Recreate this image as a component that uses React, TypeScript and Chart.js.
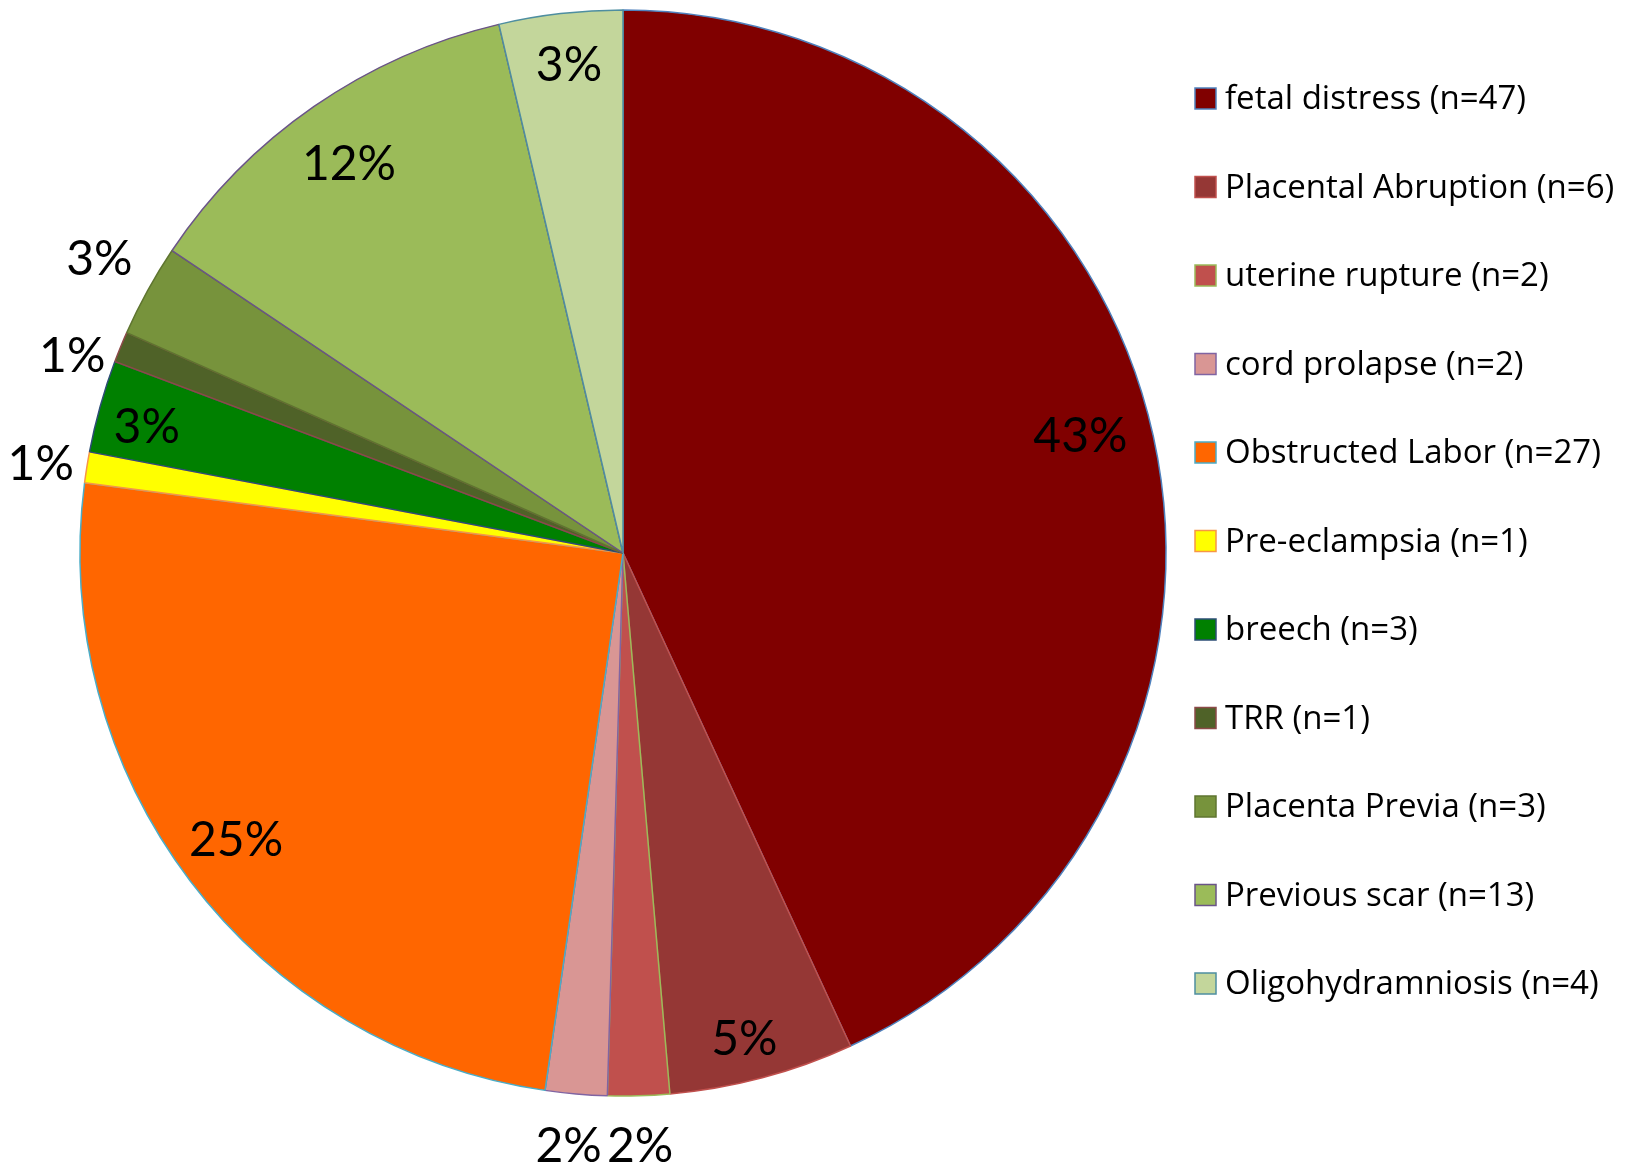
import React, { useEffect, useRef } from "react";
import { Chart, registerables } from "chart.js";

Chart.register(...registerables);

// ---- data ----
const categories = [
  "fetal distress",
  "Placental Abruption",
  "uterine rupture",
  "cord prolapse",
  "Obstructed Labor",
  "Pre-eclampsia",
  "breech",
  "TRR",
  "Placenta Previa",
  "Previous scar",
  "Oligohydramniosis",
];
const counts = [47, 6, 2, 2, 27, 1, 3, 1, 3, 13, 4];
const percentLabels = ["43%", "5%", "2%", "2%", "25%", "1%", "3%", "1%", "3%", "12%", "3%"];

// ---- styles ----
const fillColors = [
  "#800000",
  "#953735",
  "#C0504D",
  "#D99694",
  "#FF6600",
  "#FFFF00",
  "#008000",
  "#4F6228",
  "#77933C",
  "#9BBB59",
  "#C3D69B",
];
const borderColors = [
  "#4F81BD",
  "#C0504D",
  "#9BBB59",
  "#8064A2",
  "#4BACC6",
  "#F79646",
  "#2C4D75",
  "#8C4A48",
  "#5F7530",
  "#6A5488",
  "#4E8EA0",
];
// label placement relative to each slice: radius factor and angle tweak (deg)
const labelRadius = [0.87, 0.92, 1.09, 1.095, 0.886, 1.085, 0.908, 1.078, 1.107, 0.878, 0.906];
const labelAngleShift = [-2.1, 0.8, 0, 0.3, 0.7, -0.3, -0.7, -2.5, 0.5, -0.4, 0.3];

const LABEL_FONT = "Lato, 'Open Sans', sans-serif";
const LEGEND_FONT = "'Open Sans', 'Noto Sans', sans-serif";
const LABEL_SIZE = 48;
const LEGEND_SIZE = 33;

const pctLabelPlugin = {
  id: "pctLabels",
  afterDatasetsDraw(chart: any) {
    const ctx = chart.ctx;
    const meta = chart.getDatasetMeta(0);
    ctx.save();
    ctx.font = `${LABEL_SIZE}px ${LABEL_FONT}`;
    ctx.fillStyle = "#000000";
    ctx.textAlign = "center";
    ctx.textBaseline = "alphabetic";
    meta.data.forEach((arc: any, i: number) => {
      const p = arc.getProps(["x", "y", "startAngle", "endAngle", "outerRadius"], true);
      const mid = (p.startAngle + p.endAngle) / 2 + (labelAngleShift[i] * Math.PI) / 180;
      const r = p.outerRadius * labelRadius[i];
      const cx = p.x + Math.cos(mid) * r;
      const cy = p.y + Math.sin(mid) * r;
      ctx.fillText(percentLabels[i], cx, cy + (LABEL_SIZE * 0.72) / 2);
    });
    ctx.restore();
  },
};

const legendPlugin = {
  id: "customLegend",
  afterDraw(chart: any) {
    const ctx = chart.ctx;
    const labels = chart.data.labels as string[];
    const ds = chart.data.datasets[0];
    const boxX = 1195;
    const boxSize = 21;
    const firstCenter = 98.5;
    const step = 88.5;
    const textX = 1225;
    ctx.save();
    ctx.font = `${LEGEND_SIZE}px ${LEGEND_FONT}`;
    ctx.textAlign = "left";
    ctx.textBaseline = "alphabetic";
    labels.forEach((lab, i) => {
      const cy = firstCenter + i * step;
      ctx.fillStyle = ds.backgroundColor[i];
      ctx.fillRect(boxX, cy - boxSize / 2, boxSize, boxSize);
      ctx.lineWidth = 1.5;
      ctx.strokeStyle = ds.borderColor[i];
      ctx.strokeRect(boxX, cy - boxSize / 2, boxSize, boxSize);
      ctx.fillStyle = "#000000";
      ctx.fillText(lab, textX, cy + 10.5);
    });
    ctx.restore();
  },
};

export default function App() {
  const canvasRef = useRef<HTMLCanvasElement | null>(null);

  useEffect(() => {
    if (!canvasRef.current) return;
    const chart = new Chart(canvasRef.current, {
      type: "pie",
      data: {
        labels: categories.map((c, i) => `${c} (n=${counts[i]})`),
        datasets: [
          {
            data: counts,
            backgroundColor: fillColors,
            borderColor: borderColors,
            borderWidth: 1.5,
            hoverOffset: 0,
            offset: 0,
          },
        ],
      },
      options: {
        responsive: false,
        animation: false,
        devicePixelRatio: 1,
        events: [],
        radius: 543,
        layout: { padding: { left: 0, top: 0, right: 379, bottom: 59 } },
        plugins: {
          legend: { display: false },
          tooltip: { enabled: false },
        },
      } as any,
      plugins: [pctLabelPlugin, legendPlugin],
    });
    return () => chart.destroy();
  }, []);

  return (
    <div style={{ position: "absolute", left: 0, top: 0, width: 1625, height: 1165, background: "#ffffff" }}>
      <canvas ref={canvasRef} width={1625} height={1165} style={{ display: "block" }} />
    </div>
  );
}
